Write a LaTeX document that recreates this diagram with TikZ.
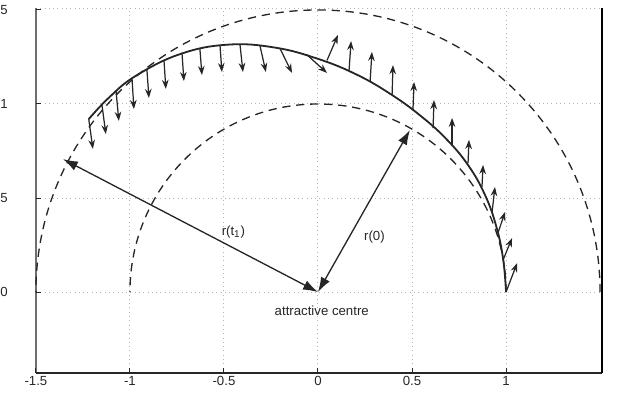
\documentclass[tikz,border=0pt]{standalone}
\usepackage{fontspec}
\setmainfont{Liberation Sans}
\usepackage{xcolor}
\definecolor{inkGrey}  {HTML}{262626}
\definecolor{axisGrey} {HTML}{6E6E6E}
\definecolor{gridGrey} {HTML}{B4B4B4}
\usetikzlibrary{arrows.meta, positioning, calc}

\begin{document}
\begin{tikzpicture}[x=4cm, y=4cm,
    every node/.style={font=\fontsize{8}{9.6}\selectfont, text=inkGrey},
    gridline/.style={gridGrey, dotted, line width=0.6pt},
    orbit/.style={inkGrey, dash pattern=on 5pt off 3.5pt, line width=0.8pt},
    traj/.style={inkGrey, line width=1.1pt},
    force/.style={-{Stealth[length=5.5pt, width=4pt]}, inkGrey, line width=0.75pt},
    rvec/.style={{Latex[length=9pt, width=6pt]}-{Latex[length=9pt, width=6pt]},
                 inkGrey, line width=0.8pt},
    ticklab/.style={inner sep=1pt}
]
\useasboundingbox (-1.691,-0.532) rectangle (1.723,1.553);
% Grid
\foreach \gx in {-1,-0.5,0,0.5,1}
  \draw[gridline] (\gx,-0.43) -- (\gx,1.51);
\foreach \gy in {0,0.5,1,1.51}
  \draw[gridline] (-1.5,\gy) -- (1.51,\gy);
% Axes
\draw[axisGrey, line width=1.1pt] (-1.5,1.51) -- (-1.5,-0.43);
\draw[inkGrey, line width=1.1pt] (-1.5,-0.43) -- (1.51,-0.43);
\draw[black, line width=1.5pt] (1.51,-0.43) -- (1.51,1.51);
\foreach \gx in {-1.5,-1,-0.5,0,0.5,1}
  \draw[inkGrey, line width=0.6pt] (\gx,-0.43) -- ++(0,0.025);
\foreach \gy in {0,0.5,1,1.5}
  \draw[inkGrey, line width=0.6pt] (-1.5,\gy) -- ++(0.025,0);
% Tick labels
\foreach \gx/\lab in {-1.5/-1.5,-1/-1,-0.5/-0.5,0/0,0.5/0.5,1/1}
  \node[ticklab, below] (xl\lab) at (\gx,-0.44) {\lab};
\foreach \gy/\lab in {0/0,0.5/0.5,1/1,1.5/1.5}
  \node[ticklab, anchor=east, inner sep=0pt] (yl\lab) at (-1.648,\gy) {\lab};
% Circles
\draw[orbit] (1.5,0) arc[start angle=0, end angle=180, radius=1.5];
\draw[orbit] (1,0) arc[start angle=0, end angle=180, radius=1];
% Trajectory
\draw[traj] plot[smooth, tension=0.7] coordinates {
  (0:1) (10:1) (20:1.01) (30:1.027) (40:1.045) (50:1.062) (60:1.085)
  (70:1.122) (80:1.175) (90:1.24) (100:1.32) (110:1.40) (120:1.462)
  (130:1.503) (137:1.518) (143:1.527)};
% Force arrows
\foreach \bx/\by/\tx/\ty in {
  1/0/1.059/0.154, 0.984/0.170/1.032/0.287, 0.957/0.314/0.995/0.426,
  0.926/0.426/0.941/0.559, 0.872/0.559/0.878/0.676, 0.798/0.686/0.803/0.809,
  0.713/0.782/0.713/0.926, 0.612/0.872/0.617/1.021, 0.505/0.968/0.511/1.117,
  0.394/1.048/0.399/1.207, 0.277/1.117/0.287/1.277, 0.165/1.176/0.176/1.335,
  0.048/1.232/0.106/1.367,
  -0.059/1.262/0.048/1.165, -0.202/1.295/-0.138/1.165, -0.309/1.312/-0.277/1.170,
  -0.415/1.318/-0.399/1.170, -0.521/1.311/-0.511/1.170, -0.628/1.293/-0.617/1.154,
  -0.723/1.268/-0.713/1.122, -0.819/1.233/-0.809/1.080, -0.910/1.187/-0.899/1.032,
  -0.989/1.137/-0.979/0.973, -1.074/1.069/-1.059/0.910, -1.149/0.996/-1.128/0.840,
  -1.219/0.919/-1.197/0.761}
  \draw[force] (\bx,\by) -- (\tx,\ty);
% Radius vectors
\coordinate (centre) at (0,0);
\coordinate (rtone) at (-1.356,0.707);
\coordinate (rzero) at (0.489,0.862);
\draw[rvec] (centre) -- (rtone);
\draw[rvec] (centre) -- (rzero);
% Labels
\node (lrtone) at (-0.45,0.32) {r(t\textsubscript{1})};
\node (lrzero) at (0.30,0.29) {r(0)};
\node (lcentre) at (0.02,-0.10) {attractive centre};
\end{tikzpicture}
\end{document}
